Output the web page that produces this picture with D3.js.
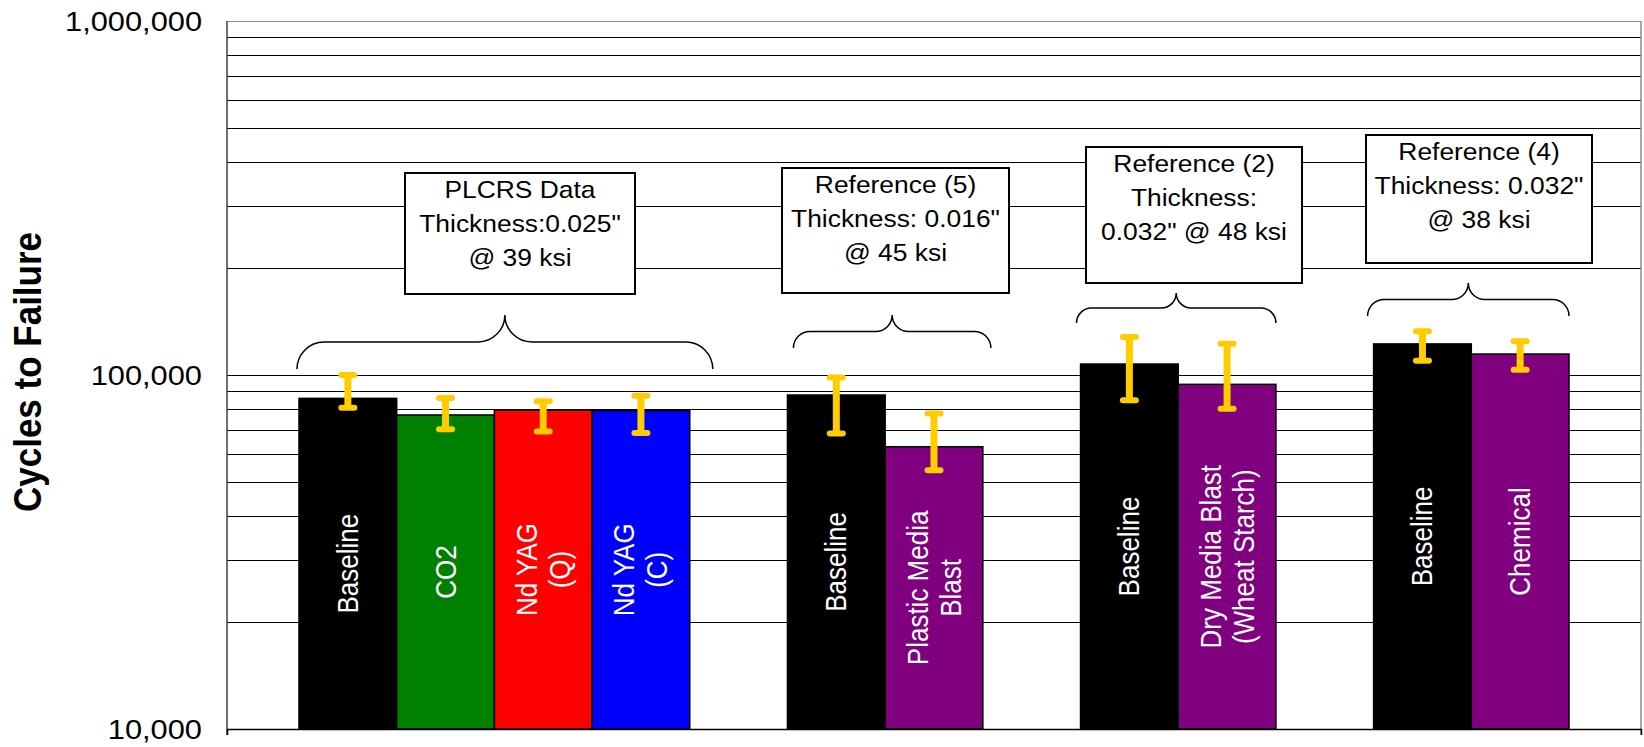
<!DOCTYPE html>
<html>
<head>
<meta charset="utf-8">
<script src="https://cdn.jsdelivr.net/npm/d3@7/dist/d3.min.js"></script>
<style>
  html, body { margin: 0; padding: 0; background: #ffffff; }
  svg { display: block; }
  text { font-family: Arial, "Liberation Sans", sans-serif; }
</style>
</head>
<body>
<svg id="chart" width="1644" height="747"></svg>
<script>
// ---------------- data ----------------
const categories = ["Baseline", "CO2", "Nd YAG\n(Q)", "Nd YAG\n(C)",
                    "Baseline", "Plastic Media\nBlast",
                    "Baseline", "Dry Media Blast\n(Wheat Starch)",
                    "Baseline", "Chemical"];
const groupIndex = [0, 0, 0, 0, 1, 1, 2, 2, 3, 3];
const cyclesToFailure = [85900, 77100, 79600, 79300, 87800, 62700, 107400, 94100, 122400, 114600];
const errorHigh = [100000, 86100, 84300, 87400, 98400, 77800, 128000, 122600, 132900, 124500];
const errorLow  = [80800, 70300, 69300, 68600, 68300, 53800, 84800, 80300, 109700, 103500];
const barColors = ["#000000", "#008000", "#FF0000", "#0000FF",
                   "#000000", "#800080", "#000000", "#800080", "#000000", "#800080"];
const yTickLabels = [10000, 100000, 1000000];
const groupNotes = [
  ["PLCRS Data", "Thickness:0.025\"", "@ 39 ksi"],
  ["Reference (5)", "Thickness: 0.016\"", "@ 45 ksi"],
  ["Reference (2)", "Thickness:", "0.032\" @ 48 ksi"],
  ["Reference (4)", "Thickness: 0.032\"", "@ 38 ksi"]
];
const yTitle = "Cycles to Failure";

// ---------------- layout ----------------
const W = 1644, H = 747;
const plot = { left: 227, right: 1641, top: 21, bottom: 729 };
const SX = 1.1; // horizontal stretch of glyphs in the reference

// annotation layout (pixels)
const boxLayout = [
  { x0: 405, x1: 635, y0: 173, y1: 294 },
  { x0: 782, x1: 1009, y0: 168, y1: 293 },
  { x0: 1086, x1: 1302, y0: 147, y1: 283 },
  { x0: 1366, x1: 1592, y0: 135, y1: 263 }
];
const braceLayout = [
  { padL: -2, padR: 23, yTip: 315, yEnd: 369 },
  { padL: 6, padR: 8, yTip: 315, yEnd: 348 },
  { padL: -4, padR: 0, yTip: 293, yEnd: 323 },
  { padL: -6, padR: 0, yTip: 283, yEnd: 316 }
];

const svg = d3.select("#chart");
svg.append("rect").attr("width", W).attr("height", H).attr("fill", "#fff");

// slots: bars with a spacer between groups
const slots = [];
categories.forEach((c, i) => {
  if (i > 0 && groupIndex[i] !== groupIndex[i - 1]) slots.push("gap" + i);
  slots.push("bar" + i);
});

const x = d3.scaleBand().domain(slots).range([plot.left, plot.right])
  .paddingInner(0).paddingOuter(0.737);
const y = d3.scaleLog().domain([10000, 1000000]).range([plot.bottom, plot.top]);
const bw = x.bandwidth();

// grid lines (all minor log ticks)
const gridVals = [];
for (let d = 10000; d < 1000000; d *= 10) {
  for (let m = 2; m <= 10; m++) gridVals.push(d * m);
}
const grid = svg.append("g").attr("transform", `translate(${plot.left},0)`)
  .call(d3.axisLeft(y).tickValues(gridVals).tickSize(-(plot.right - plot.left)).tickFormat(""));
grid.select(".domain").remove();
grid.selectAll(".tick line")
  .attr("stroke", d => d === 1000000 ? "#8c8c8c" : "#000")
  .attr("stroke-width", d => d === 1000000 ? 1.5 : 1)
  .attr("shape-rendering", "crispEdges");

// right border
svg.append("line").attr("x1", plot.right).attr("x2", plot.right)
  .attr("y1", plot.top).attr("y2", plot.bottom + 6)
  .attr("stroke", "#8c8c8c").attr("stroke-width", 1.5);

// bars
svg.append("g").selectAll("rect").data(cyclesToFailure).join("rect")
  .attr("x", (d, i) => x("bar" + i))
  .attr("y", d => y(d))
  .attr("width", bw)
  .attr("height", d => plot.bottom - y(d))
  .attr("fill", (d, i) => barColors[i])
  .attr("stroke", "#000").attr("stroke-width", 1.5);

// y axis (labels)
const yAxis = svg.append("g").attr("transform", `translate(${plot.left},0)`)
  .call(d3.axisLeft(y).tickValues(yTickLabels).tickFormat(d3.format(",")).tickSize(0).tickPadding(25));
yAxis.select(".domain").attr("stroke", "#404040").attr("stroke-width", 1.5)
  .attr("d", `M0,${plot.top}V${plot.bottom + 6}`);
yAxis.selectAll(".tick text")
  .attr("font-size", 28).attr("fill", "#000")
  .attr("font-family", "Arial, 'Liberation Sans', sans-serif")
  .attr("x", -25 / SX).attr("dy", "0.35em")
  .attr("transform", `scale(${SX},1)`);

// x axis baseline
svg.append("g").attr("transform", `translate(0,${plot.bottom})`)
  .call(d3.axisBottom(x).tickValues([]).tickSizeOuter(6))
  .call(g => g.select(".domain").attr("stroke", "#000").attr("stroke-width", 1.5));

// error bars
const eb = svg.append("g").attr("stroke", "#FFCC00").attr("fill", "none");
cyclesToFailure.forEach((v, i) => {
  const cx = x("bar" + i) + bw / 2;
  eb.append("line").attr("x1", cx).attr("x2", cx)
    .attr("y1", y(errorHigh[i])).attr("y2", y(errorLow[i]))
    .attr("stroke-width", 7);
  [errorHigh[i], errorLow[i]].forEach(e => {
    eb.append("line").attr("x1", cx - 6.5).attr("x2", cx + 6.5)
      .attr("y1", y(e)).attr("y2", y(e))
      .attr("stroke-width", 6).attr("stroke-linecap", "round");
  });
});

// bar labels (white, rotated)
const lbl = svg.append("g");
categories.forEach((c, i) => {
  const lines = c.split("\n");
  const cx = x("bar" + i) + bw / 2;
  const cy = (y(cyclesToFailure[i]) + plot.bottom) / 2;
  lines.forEach((ln, k) => {
    const off = (k - (lines.length - 1) / 2) * 33;
    lbl.append("text")
      .attr("transform", `translate(${cx + off},${cy}) scale(${SX},1) rotate(-90)`)
      .attr("text-anchor", "middle").attr("dy", "0.35em")
      .attr("font-size", 26).attr("fill", "#fff")
      .text(ln);
  });
});

// braces
const brace = svg.append("g").attr("fill", "none").attr("stroke", "#000").attr("stroke-width", 1.5);
braceLayout.forEach((b, g) => {
  const idx = groupIndex.map((gi, i) => gi === g ? i : -1).filter(i => i >= 0);
  const x0 = x("bar" + idx[0]) + b.padL;
  const x1 = x("bar" + idx[idx.length - 1]) + bw + b.padR;
  const xm = (x0 + x1) / 2;
  const r = (b.yEnd - b.yTip) / 2;
  const ym = b.yTip + r;
  const p = `M${x0},${b.yEnd} A${r},${r} 0 0 1 ${x0 + r},${ym} L${xm - r},${ym} ` +
            `A${r},${r} 0 0 0 ${xm},${b.yTip} A${r},${r} 0 0 0 ${xm + r},${ym} ` +
            `L${x1 - r},${ym} A${r},${r} 0 0 1 ${x1},${b.yEnd}`;
  brace.append("path").attr("d", p);
});

// annotation boxes
boxLayout.forEach((b, g) => {
  const gb = svg.append("g");
  gb.append("rect").attr("x", b.x0).attr("y", b.y0)
    .attr("width", b.x1 - b.x0).attr("height", b.y1 - b.y0)
    .attr("fill", "#fff").attr("stroke", "#000").attr("stroke-width", 2);
  const cx = (b.x0 + b.x1) / 2;
  groupNotes[g].forEach((ln, k) => {
    gb.append("text")
      .attr("transform", `translate(${cx},${b.y0 + 24.5 + k * 34}) scale(${SX},1)`)
      .attr("text-anchor", "middle").attr("font-size", 24).attr("fill", "#000")
      .text(ln);
  });
});

// y axis title
svg.append("text")
  .attr("transform", `translate(41,372) scale(${SX},1) rotate(-90)`)
  .attr("text-anchor", "middle").attr("font-size", 35).attr("font-weight", "bold")
  .attr("fill", "#000").text(yTitle);
</script>
</body>
</html>
